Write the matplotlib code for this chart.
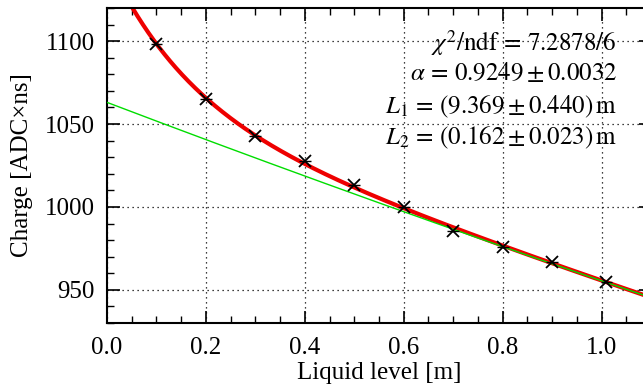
import numpy as np
import matplotlib
matplotlib.use("Agg")
import matplotlib.pyplot as plt
from matplotlib.ticker import MultipleLocator

plt.rcParams['font.family'] = ['Liberation Serif', 'DejaVu Serif']
plt.rcParams['mathtext.fontset'] = 'stix'

# Data
level = [0.10, 0.20, 0.30, 0.40, 0.50, 0.60, 0.70, 0.80, 0.90, 1.01]
charge = [1098.5, 1065.0, 1043.0, 1027.5, 1013.5, 1000.0, 985.5, 976.0, 966.5, 955.0]
level_err = [0.012] * len(level)

# Fit parameters
norm = 1149.4
alpha = 0.9249
L1 = 9.369
L2 = 0.162
fit_text = [r"$\chi^2/\mathrm{ndf} \,=\, 7.2878/6$",
            r"$\alpha \,=\, 0.9249 \pm 0.0032$",
            r"$L_1 \,=\, (9.369 \pm 0.440)\,\mathrm{m}$",
            r"$L_2 \,=\, (0.162 \pm 0.023)\,\mathrm{m}$"]

W, H = 643, 388
fig = plt.figure(figsize=(W / 100, H / 100), dpi=100)
left, right, top, bottom = 107, 651, 8, 323
ax = fig.add_axes([left / W, 1 - bottom / H, (right - left) / W, (bottom - top) / H])

xs = np.linspace(0.0, 1.1, 500)
full = norm * (alpha * np.exp(-xs / L1) + (1 - alpha) * np.exp(-xs / L2))
longc = norm * alpha * np.exp(-xs / L1)

ax.plot(xs, longc, color='#00dd00', lw=1.0, zorder=3)
ax.plot(xs, full, color='#ee0000', lw=3.0, zorder=2)
ax.errorbar(level, charge, xerr=level_err, fmt='none', ecolor='black', elinewidth=1.0, zorder=4)
ax.plot(level, charge, linestyle='none', marker='x', markersize=9, mew=1.3, color='black', zorder=5)

ax.set_xlim(0.0, 1.1)
ax.set_ylim(930, 1120)
ax.xaxis.set_major_locator(MultipleLocator(0.2))
ax.xaxis.set_minor_locator(MultipleLocator(0.05))
ax.yaxis.set_major_locator(MultipleLocator(50))
ax.yaxis.set_minor_locator(MultipleLocator(10))
ax.set_xticks([0.0, 0.2, 0.4, 0.6, 0.8, 1.0])
ax.set_xticklabels(['0.0', '0.2', '0.4', '0.6', '0.8', '1.0'])
ax.tick_params(which='both', direction='in', top=True, right=True, labelsize=18, colors='black')
ax.tick_params(which='major', length=9, width=1.2)
ax.tick_params(axis='x', which='major', pad=10)
ax.tick_params(axis='y', which='major', pad=9)
ax.tick_params(which='minor', length=5, width=1.0)
for s in ax.spines.values():
    s.set_linewidth(1.5)
ax.grid(True, which='major', linestyle=(0, (1, 3)), color='black', linewidth=0.9)
ax.set_axisbelow(True)

ax.set_xlabel('Liquid level [m]', fontsize=18, labelpad=2)
ax.set_ylabel('Charge [ADC×ns]', fontsize=18, labelpad=8)

ys = [43, 73, 107, 138]
for t, y in zip(fit_text, ys):
    fig.text(617 / W, 1 - y / H, t, ha='right', va='center', fontsize=18)

fig.savefig('out.png', dpi=100)
